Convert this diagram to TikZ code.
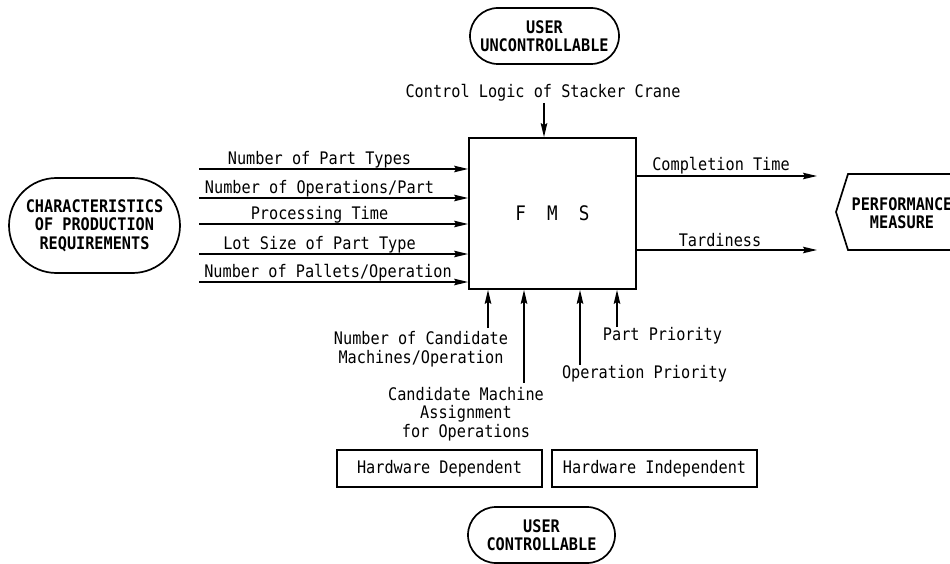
\documentclass[tikz,border=0pt]{standalone}
\usepackage{fontspec}
\setmainfont{DejaVu Sans Mono}[FakeStretch=0.88]
\usetikzlibrary{arrows.meta,shapes.misc}
\begin{document}
\begin{tikzpicture}[x=1pt,y=-1pt,
  font=\fontsize{17.3}{18.5}\selectfont,
  ln/.style={line width=1.7pt},
  arr/.style={ln,-{Stealth[length=14pt,width=6.5pt,inset=2pt]}},
  pill/.style={draw,ln,rounded rectangle,align=center,inner sep=0pt,
    font=\fontsize{17.3}{18.5}\selectfont\bfseries},
  hwbox/.style={draw,ln,inner sep=0pt,minimum width=205pt,minimum height=37pt},
  lbl/.style={inner sep=0pt,anchor=base},
  mlbl/.style={inner sep=0pt,align=center}]
\useasboundingbox (0,0) rectangle (950,564);
\clip (0,0) rectangle (950,564);

% main box
\node[draw,ln,minimum width=167pt,minimum height=151pt,inner sep=0pt,
  font=\fontsize{20}{22}\selectfont] (fms) at (552.5,213.5) {F~~M~~S};

% pills
\node[pill,minimum width=149pt,minimum height=56pt] (uu) at (544.5,36) {USER\\UNCONTROLLABLE};
\node[pill,minimum width=171pt,minimum height=95pt] (cpr) at (94.5,225.5) {CHARACTERISTICS\\OF PRODUCTION\\REQUIREMENTS};
\node[pill,minimum width=147pt,minimum height=56pt] (uc) at (541.5,535) {USER\\CONTROLLABLE};

% hardware boxes
\node[hwbox] (hd) at (439.5,468.5) {Hardware Dependent};
\node[hwbox] (hi) at (654.5,468.5) {Hardware Independent};

% performance measure
\coordinate (p1) at (960,174);
\coordinate (p2) at (848,174);
\coordinate (p3) at (836,212);
\coordinate (p4) at (848,250);
\coordinate (p5) at (960,250);
\draw[ln] (p1) -- (p2) -- (p3) -- (p4) -- (p5);
\node[mlbl,font=\fontsize{17.3}{18.5}\selectfont\bfseries] (perf) at (902,213) {PERFORMANCE\\MEASURE};

% top input
\node[lbl] (ctrl) at (543,98) {Control Logic of Stacker Crane};
\coordinate (c0) at (544,103);
\draw[arr] (c0) -- (c0 |- fms.north);

% left inputs
\coordinate (i1) at (199,169);
\coordinate (i2) at (199,198);
\coordinate (i3) at (199,224);
\coordinate (i4) at (199,254);
\coordinate (i5) at (199,282);
\draw[arr] (i1) -- (i1 -| fms.west);
\draw[arr] (i2) -- (i2 -| fms.west);
\draw[arr] (i3) -- (i3 -| fms.west);
\draw[arr] (i4) -- (i4 -| fms.west);
\draw[arr] (i5) -- (i5 -| fms.west);
\node[lbl] (l1) at (319.5,164.5) {Number of Part Types};
\node[lbl] (l2) at (319.5,193.5) {Number of Operations/Part};
\node[lbl] (l3) at (319.5,219.5) {Processing Time};
\node[lbl] (l4) at (319.5,249.5) {Lot Size of Part Type};
\node[lbl] (l5) at (328,277.5) {Number of Pallets/Operation};

% outputs
\coordinate (o1) at (817,176);
\coordinate (o2) at (817,250);
\draw[arr] (fms.east |- o1) -- (o1);
\draw[arr] (fms.east |- o2) -- (o2);
\node[lbl] (r1) at (721,171) {Completion Time};
\node[lbl] (r2) at (720,246) {Tardiness};

% bottom inputs
\coordinate (b1) at (488,328);
\coordinate (b2) at (524,383);
\coordinate (b3) at (580,365);
\coordinate (b4) at (617,327);
\draw[arr] (b1) -- (b1 |- fms.south);
\draw[arr] (b2) -- (b2 |- fms.south);
\draw[arr] (b3) -- (b3 |- fms.south);
\draw[arr] (b4) -- (b4 |- fms.south);
\node[mlbl] (nc) at (421,349) {Number of Candidate\\Machines/Operation};
\node[lbl] (pp) at (662.5,340) {Part Priority};
\node[lbl] (op) at (644.5,378) {Operation Priority};
\node[mlbl] (cm) at (466,414) {Candidate Machine\\Assignment\\for Operations};
\end{tikzpicture}
\end{document}
